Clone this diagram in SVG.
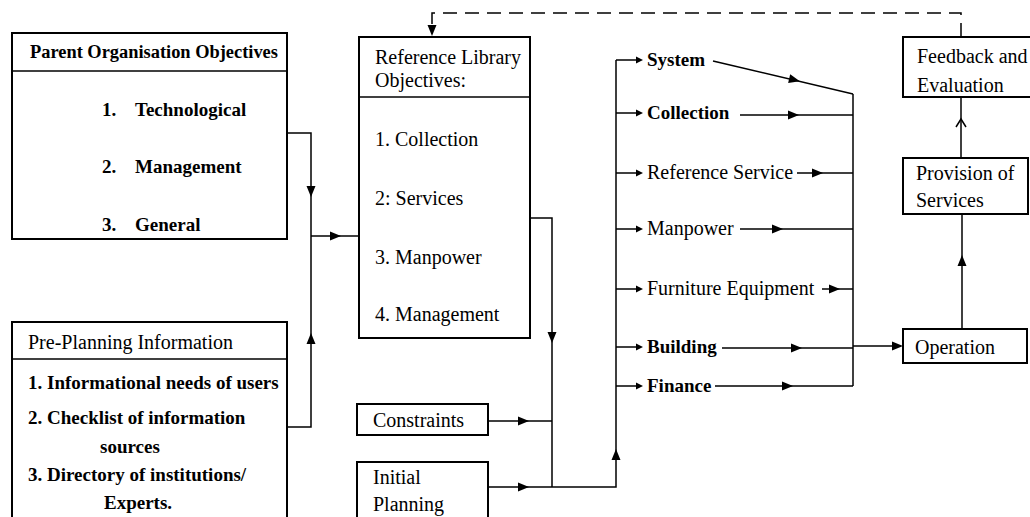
<svg xmlns="http://www.w3.org/2000/svg" width="1030" height="517" viewBox="0 0 1030 517">
  <style>
    .box { fill: #fff; stroke: #000; stroke-width: 2; }
    .ln { fill: none; stroke: #000; stroke-width: 1.5; }
    .dash { fill: none; stroke: #000; stroke-width: 1.5; stroke-dasharray: 14 8; }
    .t { font-family: "Liberation Serif", "Times New Roman", serif; font-size: 20px; fill: #000; }
    .b { font-weight: bold; font-size: 19px; }
    .hd { font-size: 18.4px; }
    .ah { fill: #000; }
  </style>
  <defs>
    <path id="ah" d="M-6,-4.5 L5,0 L-6,4.5 Z"/>
    <path id="sa" d="M-5,-3.5 L2,0 L-5,3.5 Z"/>
  </defs>
  <rect width="1030" height="517" fill="#fff"/>

  <!-- Connectors -->
  <g id="connectors">
    <!-- objectives and pre-planning merge into the library objectives -->
    <polyline class="ln" points="287,133 311,133 311,427 287,427"/>
    <line class="ln" x1="311" y1="236" x2="359" y2="236"/>
    <use href="#ah" class="ah" transform="translate(311,192) rotate(90)"/>
    <use href="#ah" class="ah" transform="translate(311,338) rotate(-90)"/>
    <use href="#ah" class="ah" transform="translate(336,236)"/>

    <!-- library objectives, constraints, initial planning -->
    <polyline class="ln" points="530,218 552,218 552,487"/>
    <use href="#ah" class="ah" transform="translate(552,338) rotate(90)"/>
    <line class="ln" x1="488" y1="421" x2="552" y2="421"/>
    <use href="#ah" class="ah" transform="translate(524,421)"/>
    <polyline class="ln" points="488,487 616,487 616,60"/>
    <use href="#ah" class="ah" transform="translate(524,487)"/>
    <use href="#ah" class="ah" transform="translate(616,454) rotate(-90)"/>

    <!-- branches to planning components -->
    <g>
      <line class="ln" x1="616" y1="60" x2="640" y2="60"/><use href="#sa" class="ah" transform="translate(641,60)"/>
      <line class="ln" x1="616" y1="113" x2="640" y2="113"/><use href="#sa" class="ah" transform="translate(641,113)"/>
      <line class="ln" x1="616" y1="173" x2="640" y2="173"/><use href="#sa" class="ah" transform="translate(641,173)"/>
      <line class="ln" x1="616" y1="229" x2="640" y2="229"/><use href="#sa" class="ah" transform="translate(641,229)"/>
      <line class="ln" x1="616" y1="289" x2="640" y2="289"/><use href="#sa" class="ah" transform="translate(641,289)"/>
      <line class="ln" x1="616" y1="347" x2="640" y2="347"/><use href="#sa" class="ah" transform="translate(641,347)"/>
      <line class="ln" x1="616" y1="386" x2="640" y2="386"/><use href="#sa" class="ah" transform="translate(641,386)"/>
    </g>

    <!-- components converge on operation -->
    <line class="ln" x1="713" y1="61" x2="853" y2="94"/>
    <use href="#ah" class="ah" transform="translate(795,80) rotate(13.3)"/>
    <line class="ln" x1="853" y1="94" x2="853" y2="386"/>
    <line class="ln" x1="740" y1="115" x2="853" y2="115"/>
    <use href="#ah" class="ah" transform="translate(794,115)"/>
    <line class="ln" x1="797" y1="173" x2="853" y2="173"/>
    <use href="#ah" class="ah" transform="translate(818,173)"/>
    <line class="ln" x1="740" y1="229" x2="853" y2="229"/>
    <use href="#ah" class="ah" transform="translate(778,229)"/>
    <line class="ln" x1="822" y1="289" x2="853" y2="289"/>
    <use href="#ah" class="ah" transform="translate(835,289)"/>
    <line class="ln" x1="722" y1="348" x2="853" y2="348"/>
    <use href="#ah" class="ah" transform="translate(797,348)"/>
    <line class="ln" x1="715" y1="386" x2="853" y2="386"/>
    <use href="#ah" class="ah" transform="translate(788,386)"/>
    <line class="ln" x1="853" y1="346" x2="898" y2="346"/>
    <use href="#ah" class="ah" transform="translate(898,346)"/>

    <!-- operation, provision, feedback -->
    <line class="ln" x1="962" y1="329" x2="962" y2="214"/>
    <use href="#ah" class="ah" transform="translate(962,260) rotate(-90)"/>
    <line class="ln" x1="961" y1="158" x2="961" y2="97"/>
    <polyline class="ln" points="956,127 961,119 966,127"/>

    <!-- feedback loop back to library objectives -->
    <polyline class="dash" points="961,37 961,13 432,13 432,30"/>
    <use href="#ah" class="ah" transform="translate(432,31) rotate(90)"/>
  </g>

  <!-- Parent organisation objectives -->
  <g id="parent-objectives">
    <rect class="box" x="12" y="33" width="275" height="206"/>
    <line class="ln" x1="12" y1="71" x2="287" y2="71" stroke-width="2"/>
    <text class="t b hd" x="30" y="58">Parent Organisation Objectives</text>
    <text class="t b" y="116"><tspan x="102">1.</tspan><tspan x="135">Technological</tspan></text>
    <text class="t b" y="173"><tspan x="102">2.</tspan><tspan x="135">Management</tspan></text>
    <text class="t b" y="231"><tspan x="102">3.</tspan><tspan x="135">General</tspan></text>
  </g>

  <!-- Pre-planning information -->
  <g id="pre-planning">
    <rect class="box" x="12" y="322" width="275" height="210"/>
    <line class="ln" x1="12" y1="359" x2="287" y2="359" stroke-width="2"/>
    <text class="t" x="28" y="349">Pre-Planning Information</text>
    <text class="t b" x="28" y="389">1. Informational needs of users</text>
    <text class="t b" x="28" y="424">2. Checklist of information</text>
    <text class="t b" x="100" y="453">sources</text>
    <text class="t b" x="28" y="481">3. Directory of institutions/</text>
    <text class="t b" x="104" y="509">Experts.</text>
  </g>

  <!-- Reference library objectives -->
  <g id="library-objectives">
    <rect class="box" x="359" y="37" width="171" height="301"/>
    <line class="ln" x1="359" y1="97" x2="530" y2="97" stroke-width="2"/>
    <text class="t" x="375" y="64">Reference Library</text>
    <text class="t" x="375" y="87">Objectives:</text>
    <text class="t" x="375" y="146">1. Collection</text>
    <text class="t" x="375" y="205">2: Services</text>
    <text class="t" x="375" y="264">3. Manpower</text>
    <text class="t" x="375" y="321">4. Management</text>
  </g>

  <!-- Constraints -->
  <g id="constraints">
    <rect class="box" x="357" y="404" width="131" height="31"/>
    <text class="t" x="373" y="427">Constraints</text>
  </g>

  <!-- Initial planning -->
  <g id="initial-planning">
    <rect class="box" x="357" y="462" width="131" height="70"/>
    <text class="t" x="373" y="484">Initial</text>
    <text class="t" x="373" y="511">Planning</text>
  </g>

  <!-- Planning components -->
  <g id="components">
    <text class="t b" x="647" y="66">System</text>
    <text class="t b" x="647" y="119">Collection</text>
    <text class="t" x="647" y="179">Reference Service</text>
    <text class="t" x="647" y="235">Manpower</text>
    <text class="t" x="647" y="295">Furniture Equipment</text>
    <text class="t b" x="647" y="353">Building</text>
    <text class="t b" x="647" y="392">Finance</text>
  </g>

  <!-- Operation -->
  <g id="operation">
    <rect class="box" x="903" y="329" width="124" height="34"/>
    <text class="t" x="915" y="354">Operation</text>
  </g>

  <!-- Provision of services -->
  <g id="provision">
    <rect class="box" x="903" y="158" width="125" height="56"/>
    <text class="t" x="916" y="180">Provision of</text>
    <text class="t" x="916" y="207">Services</text>
  </g>

  <!-- Feedback and evaluation -->
  <g id="feedback">
    <rect class="box" x="903" y="37" width="140" height="60"/>
    <text class="t" x="917" y="63">Feedback and</text>
    <text class="t" x="917" y="92">Evaluation</text>
  </g>
</svg>
